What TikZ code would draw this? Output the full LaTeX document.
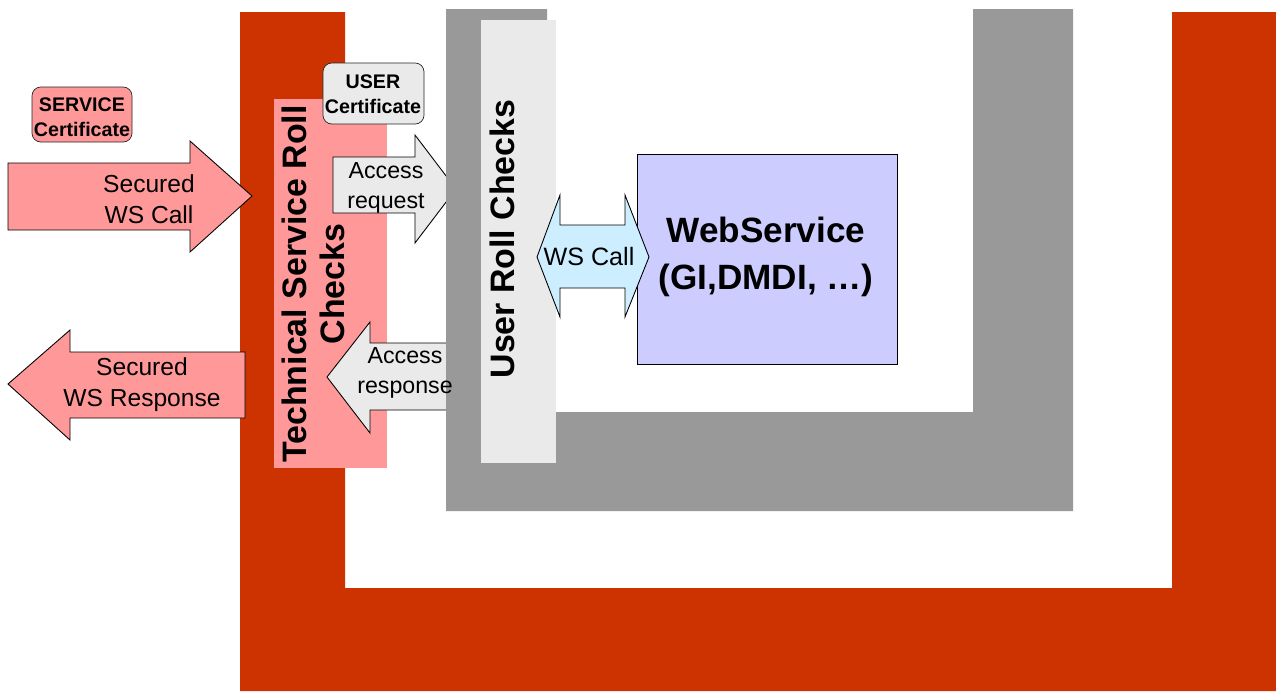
\documentclass[tikz,border=0pt]{standalone}
\usepackage{fontspec}
\setmainfont{Liberation Sans}
\usepackage{tikz}
\usetikzlibrary{positioning, fit}
\definecolor{rotwand}{RGB}{204,51,0}
\definecolor{grauwand}{RGB}{153,153,153}
\definecolor{hellgrau}{RGB}{234,234,234}
\definecolor{rosa}{RGB}{255,153,153}
\definecolor{lila}{RGB}{204,204,255}
\definecolor{hellblau}{RGB}{204,238,255}
\tikzset{>=stealth,
	wand/.style={fill=rotwand},
	innenwand/.style={fill=grauwand},
	feld/.style={inner sep=0pt, outer sep=0pt},
	pfeil/.style={draw=black, line width=0.5pt},
	zert/.style={feld, draw=black!85, rounded corners=5pt},
	zerttxt/.style={align=center, inner sep=0pt, font=\bfseries\fontsize{11.2}{14}\selectfont},
	txt/.style={align=center, inner sep=0pt, font=\fontsize{14}{17.6}\selectfont}}

\begin{document}
\begin{tikzpicture}[x=0.02cm, y=-0.02cm]
	\useasboundingbox (0,0) rectangle (1276,691);

	% outer and inner walls
	\fill[wand] (240,12) -- (345,12) -- (345,588) -- (1172,588) -- (1172,12) -- (1276,12) -- (1276,691) -- (240,691) -- cycle;
	\node[feld, fill=rosa, fit={(274,99) (387,468)}] (tech) {};
	\node[zert, fill=hellgrau, fit={(323,63) (424,124)}] (usercert) {};
	\node[zerttxt] (userlbl) at (373,94) {USER\\Certificate};
	\node[zert, fill=rosa, fit={(32,87) (132,142)}] (servcert) {};
	\node[zerttxt] (servlbl) at (82,117) {SERVICE\\Certificate};

	% secured call and response
	\draw[pfeil, fill=rosa] (8,163) -- (190,163) -- (190,141) -- (252,196) -- (190,252) -- (190,230) -- (8,230) -- cycle;
	\node[txt] (wscall) at (149,199) {Secured\\WS Call};
	\draw[pfeil, fill=rosa] (245,352) -- (70,352) -- (70,330) -- (8,384) -- (70,440) -- (70,418) -- (245,418) -- cycle;
	\node[txt] (wsresp) at (142,385) {Secured\\WS Response};

	% access request and response
	\draw[pfeil, fill=hellgrau] (333,157) -- (415,157) -- (415,135) -- (456,189) -- (415,243) -- (415,213) -- (333,213) -- cycle;
	\draw[pfeil, fill=hellgrau] (452,343) -- (370,343) -- (370,322) -- (327,377) -- (370,433) -- (370,410) -- (452,410) -- cycle;

	\fill[innenwand] (446,9) -- (547,9) -- (547,412) -- (973,412) -- (973,9) -- (1073,9) -- (1073,511) -- (446,511) -- cycle;
	\node[feld, fill=hellgrau, fit={(481,20) (556,463)}] (userbox) {};

	\node[txt, font=\fontsize{13.2}{17}\selectfont] (accreq) at (386,188) {Access\\request};
	\node[txt, font=\fontsize{13.2}{17}\selectfont] (accresp) at (405,373) {Access\\response};

	\node[txt, rotate=90, font=\bfseries\fontsize{19.3}{21.5}\selectfont] (techlbl) at (313,284) {Technical Service Roll\\Checks};
	\node[txt, rotate=90, font=\bfseries\fontsize{19.3}{21.5}\selectfont] (userchk) at (502,239) {User Roll Checks};

	% web service
	\node[feld, draw=black, fill=lila, fit={(637,154) (897,364)}] (ws) {};
	\node[txt, font=\bfseries\fontsize{20}{26.6}\selectfont] (wslbl) at (766,257) {WebService\\(GI,DMDI, …)};
	\draw[pfeil, fill=hellblau] (537,257) -- (560,195) -- (560,225) -- (625,225) -- (625,195) -- (649,257) -- (625,317) -- (625,288) -- (560,288) -- (560,317) -- cycle;
	\node[txt, font=\fontsize{14.3}{17.6}\selectfont] (call) at (589,257) {WS Call};
\end{tikzpicture}
\end{document}
